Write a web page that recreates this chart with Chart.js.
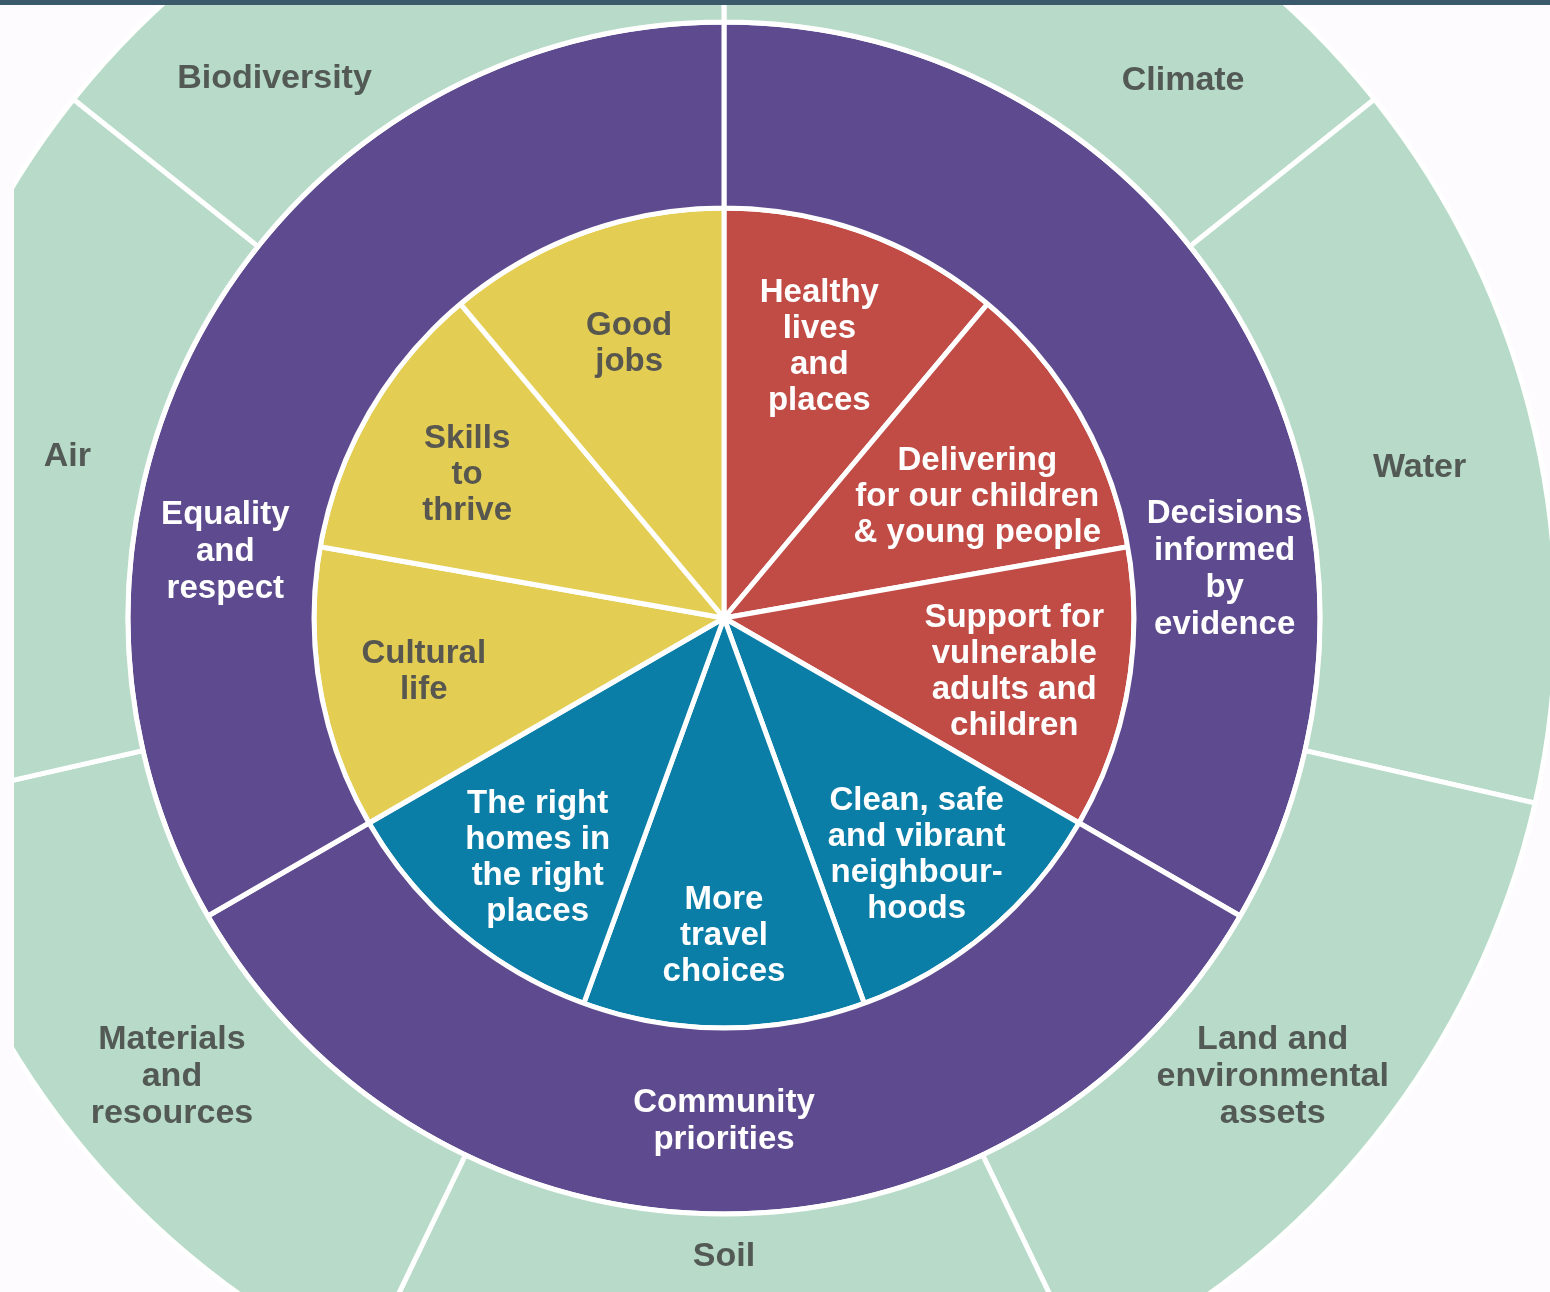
<!DOCTYPE html>
<html>
<head>
<meta charset="utf-8">
<script src="https://cdn.jsdelivr.net/npm/chart.js@4.4.1/dist/chart.umd.min.js"></script>
<style>
  html, body { margin: 0; padding: 0; background: #fdfbfd; }
  #page { position: relative; width: 1550px; height: 1292px; overflow: hidden; background: #fdfbfd; }
  #topbar { position: absolute; left: 0; top: 0; width: 1550px; height: 5px; background: #3a5a6c; z-index: 2; }
  #clip { position: absolute; left: 14px; top: 0; width: 1536px; height: 1292px; overflow: hidden; }
  #wheel { position: absolute; left: -190px; top: -282px; }
</style>
</head>
<body>
<div id="page">
  <div id="topbar"></div>
  <div id="clip">
    <canvas id="wheel" width="1800" height="1800"></canvas>
  </div>
</div>
<script>
// outer ring: environment
const environmentLabels = ["Climate", "Water", "Land and\nenvironmental\nassets", "Soil",
  "Materials\nand\nresources", "Air", "Biodiversity"]
const environmentValues = [1, 1, 1, 1, 1, 1, 1]

// middle ring: themes
const themeLabels = ["Decisions\ninformed\nby\nevidence", "Community\npriorities", "Equality\nand\nrespect"]
const themeValues = [1, 1, 1]

// inner pie: outcomes
const outcomeLabels = ["Healthy\nlives\nand\nplaces", "Delivering\nfor our children\n& young people",
  "Support for\nvulnerable\nadults and\nchildren", "Clean, safe\nand vibrant\nneighbour-\nhoods",
  "More\ntravel\nchoices", "The right\nhomes in\nthe right\nplaces", "Cultural\nlife",
  "Skills\nto\nthrive", "Good\njobs"]
const outcomeValues = [1, 1, 1, 1, 1, 1, 1, 1, 1]

const GREEN = "#b7dbc8"
const PURPLE = "#5e4a8e"
const RED = "#c14b45"
const BLUE = "#0a7ea7"
const YELLOW = "#e4cd53"

const outcomeColors = [RED, RED, RED, BLUE, BLUE, BLUE, YELLOW, YELLOW, YELLOW]

// label placement tweaks: clock angle (deg from 12 o'clock) and fraction across the ring
const labelSettings = [
  { font: "bold 34px 'Liberation Sans', Arial, sans-serif", lineHeight: 37, color: "#535a56",
    frac: 0.5,
    angles: { 0: 40.5, 1: 77.8, 2: 129.9, 4: 230.3, 5: 283.8, 6: 320.2 },
    fracs: { 0: 0.47, 1: 0.49, 2: 0.505, 3: 0.18, 4: 0.515, 5: 0.34, 6: 0.45 } },
  { font: "bold 33px 'Liberation Sans', Arial, sans-serif", lineHeight: 37, color: "#ffffff",
    frac: 0.5, angles: { 0: 84.5, 2: 277.5 }, fracs: {} },
  { font: "bold 33px 'Liberation Sans', Arial, sans-serif", lineHeight: 36, color: "#ffffff",
    frac: 0.73,
    angles: { 0: 19.4, 1: 64.4, 2: 100.5, 3: 140.9, 4: 180, 5: 217.9, 6: 259.8, 7: 299.1, 8: 340.9 },
    fracs: { 0: 0.70, 1: 0.685, 2: 0.72, 3: 0.745, 4: 0.775, 5: 0.74, 6: 0.744, 7: 0.717, 8: 0.707 },
    darkOn: YELLOW, darkColor: "#575750" }
]

const ringLabels = {
  id: "ringLabels",
  afterDatasetsDraw(chart) {
    const ctx = chart.ctx
    ctx.save()
    ctx.textAlign = "center"
    ctx.textBaseline = "middle"
    chart.data.datasets.forEach((ds, di) => {
      const set = labelSettings[di]
      const meta = chart.getDatasetMeta(di)
      meta.data.forEach((arc, i) => {
        const p = arc.getProps(["x", "y", "startAngle", "endAngle", "innerRadius", "outerRadius"], true)
        let a = (p.startAngle + p.endAngle) / 2
        if (set.angles[i] !== undefined) a = (set.angles[i] - 90) * Math.PI / 180
        const f = set.fracs[i] !== undefined ? set.fracs[i] : set.frac
        const r = p.innerRadius + f * (p.outerRadius - p.innerRadius)
        const cx = p.x + r * Math.cos(a)
        const cy = p.y + r * Math.sin(a)
        const lines = ds.names[i].split("\n")
        ctx.font = set.font
        ctx.fillStyle = (set.darkOn && ds.backgroundColor[i] === set.darkOn) ? set.darkColor : set.color
        const top = cy - (lines.length - 1) * set.lineHeight / 2
        lines.forEach((line, li) => ctx.fillText(line, cx, top + li * set.lineHeight))
      })
    })
    ctx.restore()
  }
}

new Chart(document.getElementById("wheel").getContext("2d"), {
  type: "doughnut",
  data: {
    labels: outcomeLabels,
    datasets: [
      {
        data: environmentValues,
        names: environmentLabels,
        backgroundColor: environmentValues.map(() => GREEN),
        borderColor: "#ffffff",
        borderWidth: 5,
        weight: 236
      },
      {
        data: themeValues,
        names: themeLabels,
        backgroundColor: themeValues.map(() => PURPLE),
        borderColor: "#ffffff",
        borderWidth: 5,
        weight: 186
      },
      {
        data: outcomeValues,
        names: outcomeLabels,
        backgroundColor: outcomeColors,
        borderColor: "#ffffff",
        borderWidth: 5,
        weight: 410
      }
    ]
  },
  options: {
    responsive: false,
    devicePixelRatio: 1,
    animation: false,
    cutout: 0,
    radius: 832,
    rotation: 0,
    events: [],
    plugins: {
      legend: { display: false },
      tooltip: { enabled: false }
    }
  },
  plugins: [ringLabels]
})
</script>
</body>
</html>
